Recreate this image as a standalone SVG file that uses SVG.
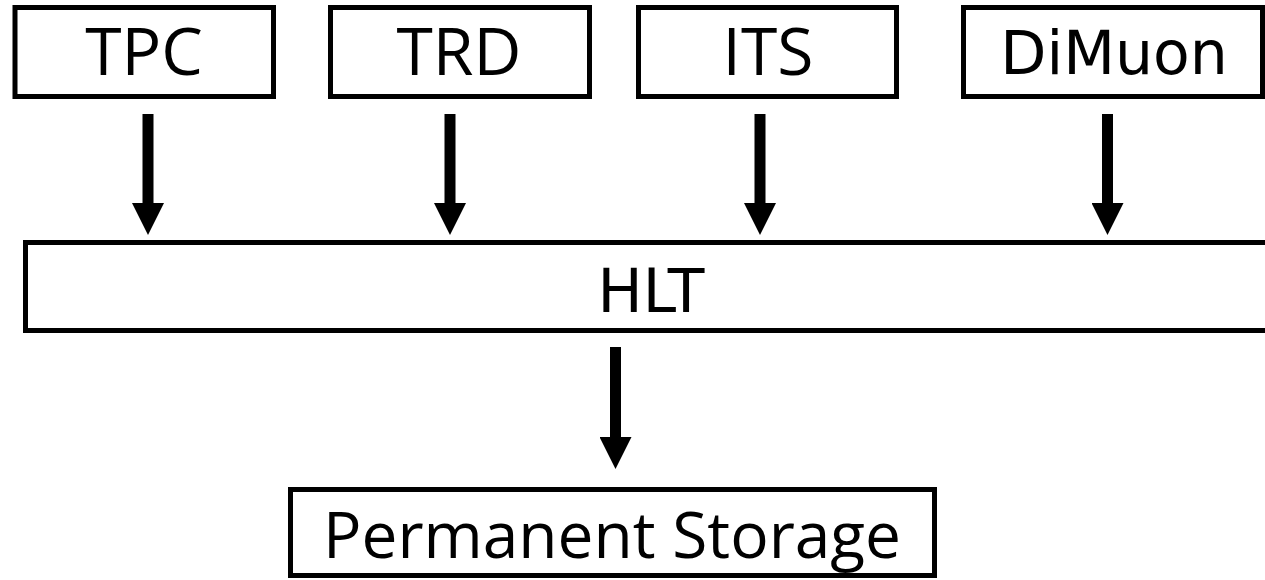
<svg xmlns="http://www.w3.org/2000/svg" width="1265" height="580" viewBox="0 0 1265 580">
  <style>
    .box { fill: #ffffff; stroke: #000000; stroke-width: 5; }
    .lbl { font-family: "Open Sans", "Liberation Sans", sans-serif; font-size: 66px; fill: #000000; text-anchor: middle; }
    .big { font-size: 64px; }
    .lbl2 { font-family: "DejaVu Sans", "Liberation Sans", sans-serif; font-size: 60px; fill: #000000; text-anchor: middle; }
    .flow { stroke: #000000; stroke-width: 11; fill: none; marker-end: url(#head); }
  </style>
  <defs>
    <!-- solid triangular arrowhead, 32 long and 32 wide -->
    <marker id="head" markerUnits="userSpaceOnUse" markerWidth="32" markerHeight="32" viewBox="0 0 32 32" refX="0" refY="16" orient="auto">
      <path d="M0,0 L32,16 L0,32 z" fill="#000000"/>
    </marker>
  </defs>
  <rect width="1265" height="580" fill="#ffffff"/>

  <g id="tpc">
    <rect class="box" x="15" y="7.5" width="258.5" height="89"/>
    <text class="lbl" x="144" y="75">TPC</text>
  </g>
  <g id="trd">
    <rect class="box" x="330.5" y="7.5" width="259" height="89"/>
    <text class="lbl" x="459" y="75">TRD</text>
  </g>
  <g id="its">
    <rect class="box" x="638.5" y="7.5" width="258" height="89"/>
    <text class="lbl" x="768" y="75">ITS</text>
  </g>
  <g id="dimuon">
    <rect class="box" x="963.5" y="7.5" width="299" height="89"/>
    <text class="lbl2" x="1114" y="74">DiMuon</text>
  </g>
  <!-- the HLT bar runs past the right edge of the canvas -->
  <g id="hlt">
    <rect class="box" x="25.5" y="242.5" width="1300" height="88"/>
    <text class="lbl2" x="651" y="312">HLT</text>
  </g>
  <g id="storage">
    <rect class="box" x="290.5" y="489.5" width="644" height="86"/>
    <text class="lbl big" x="612" y="558">Permanent Storage</text>
  </g>

  <g id="connectors">
    <line class="flow" x1="148" y1="114" x2="148" y2="203"/>
    <line class="flow" x1="450" y1="114" x2="450" y2="203"/>
    <line class="flow" x1="760" y1="114" x2="760" y2="203"/>
    <line class="flow" x1="1107.5" y1="114" x2="1107.5" y2="203"/>
    <line class="flow" x1="615.5" y1="347" x2="615.5" y2="437"/>
  </g>
</svg>
